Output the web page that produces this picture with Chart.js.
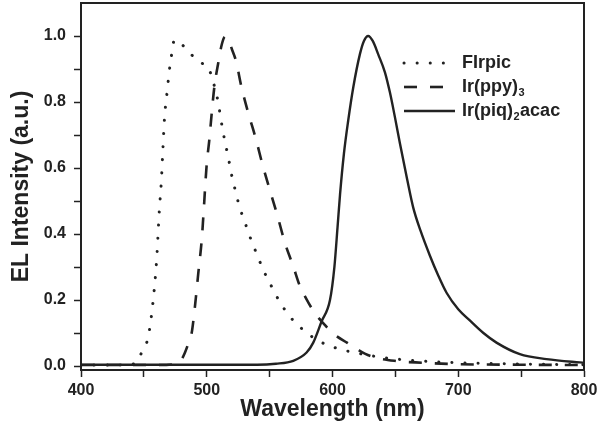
<!DOCTYPE html>
<html>
<head>
<meta charset="utf-8">
<script src="https://cdn.jsdelivr.net/npm/chart.js@4.4.0/dist/chart.umd.min.js"></script>
<style>
  html, body { margin: 0; padding: 0; background: #fff; }
  #wrap { width: 599px; height: 423px; }
</style>
</head>
<body>
<div id="wrap"><canvas id="elChart" width="599" height="423"></canvas></div>
<script>
// values
const firpicWl = [400, 430, 440, 445, 448.2, 453.5, 457, 460.2, 462.2, 463.9, 465.1, 466.4, 468.8, 470.1, 471.9, 474.2, 477, 481.4, 486, 491.2, 496, 501.2, 505.2, 508.4, 510.6, 512.6, 515, 517.6, 520, 523, 526, 530.4, 534.9, 539.7, 544.9, 551, 557.4, 566.1, 578.1, 590, 603.3, 616, 638, 660, 700, 750, 800];
const firpicVal = [0.003, 0.003, 0.005, 0.015, 0.041, 0.089, 0.185, 0.324, 0.466, 0.56, 0.654, 0.75, 0.842, 0.891, 0.94, 0.987, 0.985, 0.97, 0.95, 0.932, 0.918, 0.905, 0.86, 0.812, 0.764, 0.717, 0.671, 0.623, 0.575, 0.528, 0.483, 0.435, 0.386, 0.34, 0.292, 0.245, 0.199, 0.15, 0.105, 0.074, 0.054, 0.042, 0.027, 0.018, 0.01, 0.006, 0.004];

const ppyWl = [400, 460, 475, 480, 482.7, 485.5, 488, 490.6, 493.3, 496, 497.2, 499.9, 502, 503.9, 506, 509.2, 512, 514.5, 517, 520, 523.2, 527.7, 533, 539, 544.5, 550.2, 556.4, 562.2, 568.8, 574.1, 579.4, 586, 592.6, 600, 611.8, 620, 629.7, 651, 672, 696, 750, 800];
const ppyVal = [0.003, 0.003, 0.006, 0.02, 0.041, 0.07, 0.1, 0.18, 0.282, 0.382, 0.448, 0.608, 0.684, 0.764, 0.844, 0.92, 0.975, 0.998, 0.99, 0.96, 0.925, 0.844, 0.767, 0.689, 0.608, 0.533, 0.453, 0.373, 0.302, 0.242, 0.202, 0.16, 0.13, 0.1, 0.07, 0.05, 0.031, 0.015, 0.01, 0.006, 0.004, 0.003];

const piqWl = [400, 540, 555, 568.8, 579.4, 584.7, 591.3, 598, 601.5, 604, 606, 609.1, 612.5, 616.5, 621.8, 625, 628.4, 632, 636.3, 641.7, 645.6, 649.6, 653.6, 659.4, 664.2, 670, 677.4, 684, 690.7, 700, 709.2, 720, 730.4, 749, 770.2, 796.7, 800];
const piqVal = [0.004, 0.004, 0.007, 0.016, 0.041, 0.071, 0.135, 0.2, 0.3, 0.42, 0.52, 0.644, 0.744, 0.844, 0.945, 0.985, 1.0, 0.985, 0.945, 0.89, 0.83, 0.755, 0.675, 0.565, 0.48, 0.41, 0.335, 0.275, 0.222, 0.172, 0.138, 0.1, 0.071, 0.036, 0.021, 0.011, 0.01];

const seriesLabels = ['FIrpic', 'Ir(ppy)3', 'Ir(piq)2acac'];
const xTicks = [400, 450, 500, 550, 600, 650, 700, 750, 800];
const xLabels = [400, 500, 600, 700, 800];
const yTicks = [0, 0.1, 0.2, 0.3, 0.4, 0.5, 0.6, 0.7, 0.8, 0.9, 1.0];
const yLabels = [0, 0.2, 0.4, 0.6, 0.8, 1.0];

const ink = '#222';
const tickFont = { family: '"Liberation Sans", Arial, sans-serif', size: 16, weight: 'bold' };

function toPoints(wl, val) {
  return wl.map((w, i) => ({ x: w, y: val[i] }));
}

// box round the plot, the axes only give left and bottom
const framePlugin = {
  id: 'frame',
  afterDatasetsDraw(chart) {
    const { ctx, chartArea: a } = chart;
    ctx.save();
    ctx.strokeStyle = ink;
    ctx.lineWidth = 2;
    ctx.strokeRect(a.left, a.top, a.right - a.left, a.bottom - a.top);
    ctx.restore();
  },
};

// legend by hand, because of the subscripts
const legendPlugin = {
  id: 'subLegend',
  afterDraw(chart) {
    const ctx = chart.ctx;
    const x0 = 404, x1 = 455, tx = 462;
    const rows = [63, 87, 111];
    const bigFont = 'bold 18px "Liberation Sans", Arial, sans-serif';
    ctx.save();
    chart.data.datasets.forEach((ds, i) => {
      const y = rows[i];
      ctx.beginPath();
      ctx.strokeStyle = ds.borderColor;
      ctx.lineWidth = ds.borderWidth;
      ctx.lineCap = ds.borderCapStyle || 'butt';
      ctx.setLineDash(ds.borderDash || []);
      ctx.moveTo(x0, y);
      ctx.lineTo(x1, y);
      ctx.stroke();
      ctx.setLineDash([]);

      const m = ds.label.match(/^(.*\))(\d)(.*)$/);
      const parts = m ? [m[1], m[2], m[3]] : [ds.label, '', ''];
      ctx.fillStyle = ink;
      ctx.textBaseline = 'middle';
      ctx.textAlign = 'left';
      ctx.font = bigFont;
      let x = tx;
      ctx.fillText(parts[0], x, y);
      x += ctx.measureText(parts[0]).width;
      if (parts[1]) {
        ctx.font = 'bold 11px "Liberation Sans", Arial, sans-serif';
        ctx.fillText(parts[1], x + 0.5, y + 6);
        x += ctx.measureText(parts[1]).width + 1;
        ctx.font = bigFont;
        ctx.fillText(parts[2], x, y);
      }
    });
    ctx.restore();
  },
};

const ctx = document.getElementById('elChart').getContext('2d');
const chart = new Chart(ctx, {
  type: 'line',
  data: {
    datasets: [
      {
        label: seriesLabels[0],
        data: toPoints(firpicWl, firpicVal),
        borderColor: ink,
        borderWidth: 3,
        borderDash: [0.1, 13],
        borderCapStyle: 'round',
        pointRadius: 0,
        fill: false,
        cubicInterpolationMode: 'monotone',
      },
      {
        label: seriesLabels[1],
        data: toPoints(ppyWl, ppyVal),
        borderColor: ink,
        borderWidth: 2.6,
        borderDash: [13, 13],
        pointRadius: 0,
        fill: false,
        cubicInterpolationMode: 'monotone',
      },
      {
        label: seriesLabels[2],
        data: toPoints(piqWl, piqVal),
        borderColor: ink,
        borderWidth: 2.4,
        pointRadius: 0,
        fill: false,
        cubicInterpolationMode: 'monotone',
      },
    ],
  },
  options: {
    responsive: false,
    animation: false,
    devicePixelRatio: 1,
    layout: { padding: { top: 3, right: 15, left: 0, bottom: 0 } },
    plugins: {
      legend: { display: false },
      tooltip: { enabled: false },
    },
    scales: {
      x: {
        type: 'linear',
        min: 400,
        max: 800,
        afterFit: (scale) => {
          scale.height = 53;
          scale.paddingLeft = 0;
          scale.paddingRight = 0;
        },
        afterBuildTicks: (scale) => { scale.ticks = xTicks.map((v) => ({ value: v })); },
        ticks: {
          color: ink,
          font: tickFont,
          padding: 4,
          maxRotation: 0,
          autoSkip: false,
          callback: (v) => (xLabels.includes(v) ? String(v) : ''),
        },
        grid: {
          drawOnChartArea: false,
          drawTicks: true,
          tickLength: 7,
          tickColor: ink,
          tickWidth: 1.5,
        },
        border: { display: true, color: ink, width: 2 },
        title: {
          display: true,
          text: 'Wavelength (nm)',
          color: ink,
          font: { family: '"Liberation Sans", Arial, sans-serif', size: 23, weight: 'bold' },
          padding: { top: 0, bottom: 0 },
        },
      },
      y: {
        min: -0.012,
        max: 1.1,
        afterFit: (scale) => {
          scale.width = 81;
          scale.paddingTop = 0;
          scale.paddingBottom = 0;
        },
        afterBuildTicks: (scale) => { scale.ticks = yTicks.map((v) => ({ value: v })); },
        ticks: {
          color: ink,
          font: tickFont,
          padding: 8,
          autoSkip: false,
          callback: (v) => (yLabels.some((l) => Math.abs(l - v) < 1e-6) ? v.toFixed(1) : ''),
        },
        grid: {
          drawOnChartArea: false,
          drawTicks: true,
          tickLength: 7,
          tickColor: ink,
          tickWidth: 1.5,
        },
        border: { display: true, color: ink, width: 2 },
        title: {
          display: true,
          text: 'EL Intensity (a.u.)',
          color: ink,
          font: { family: '"Liberation Sans", Arial, sans-serif', size: 23, weight: 'bold' },
          padding: { top: 8, bottom: 0 },
        },
      },
    },
  },
  plugins: [framePlugin, legendPlugin],
});
</script>
</body>
</html>
